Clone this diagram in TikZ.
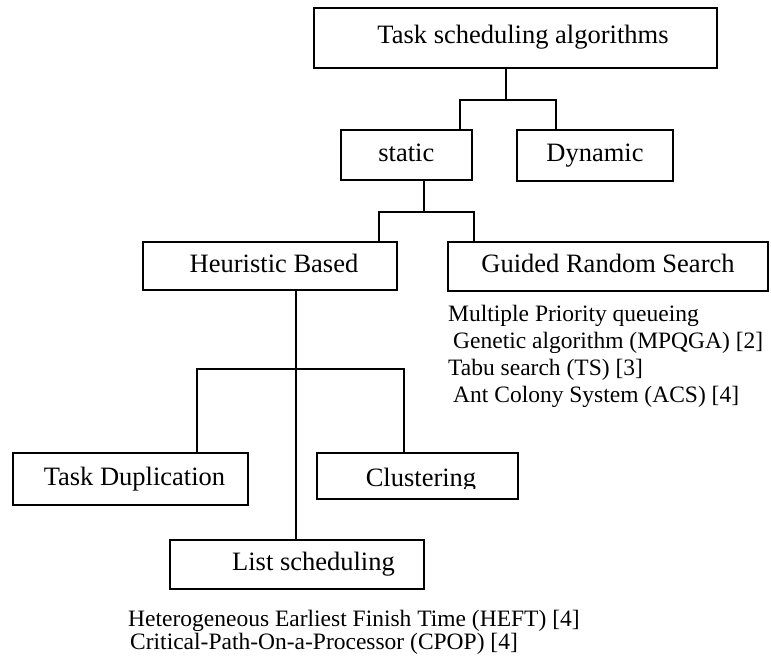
\documentclass[tikz,border=0pt]{standalone}
\usepackage{fontspec}
\setmainfont{Liberation Serif}

\begin{document}
\begin{tikzpicture}[x=1pt,y=-1pt]

      \useasboundingbox (0,0) rectangle (771,658);

      \begin{scope}[every node/.style={draw, line width=2pt, inner sep=0pt,
          text height=18pt, text depth=6pt, font=\fontsize{26.5}{30}\selectfont}]
        \node[minimum width=403, minimum height=60] (top)       at (515.5,38)  {\hspace*{15pt}Task scheduling algorithms};
        \node[minimum width=131, minimum height=50] (static)    at (406.3,155) {static};
        \node[minimum width=156, minimum height=51] (dynamic)   at (595,155.5) {Dynamic};
        \node[minimum width=254, minimum height=48] (heuristic) at (270,266)   {\hspace*{8pt}Heuristic Based};
        \node[minimum width=320, minimum height=49] (guided)    at (608,266.5) {Guided Random Search};
        \node[minimum width=235, minimum height=52] (dup)       at (130.5,479) {\hspace*{8pt}Task Duplication};
        \node[minimum width=201, minimum height=46] (clust)     at (417.5,476) {};
        \node[minimum width=254, minimum height=49] (list)      at (297,564.5) {\hspace*{33pt}List scheduling};
      \end{scope}

      % clustering label is cut at the bottom
      \begin{scope}
        \clip (318,454) rectangle (517,488);
        \node[font=\fontsize{26.5}{30}\selectfont, inner sep=0pt, anchor=base] (clusttext) at (421,486) {Clustering};
      \end{scope}

      \coordinate (j1) at (505.7,100);
      \coordinate (s1) at (460,100);
      \coordinate (d1) at (556,100);
      \coordinate (j2) at (424,212);
      \coordinate (h2) at (379,212);
      \coordinate (g2) at (474,212);
      \coordinate (j3) at (296,369);
      \coordinate (t3) at (197,369);
      \coordinate (c3) at (404,369);

      \begin{scope}[line width=1.8pt]
        \draw (top.south -| j1) -- (j1);
        \draw (static.north -| s1) -- (s1) -- (d1) -- (dynamic.north -| d1);
        \draw (static.south -| j2) -- (j2);
        \draw (heuristic.north -| h2) -- (h2) -- (g2) -- (guided.north -| g2);
        \draw (heuristic.south -| j3) -- (list.north -| j3);
        \draw (dup.north -| t3) -- (t3) -- (c3) -- (clust.north -| c3);
      \end{scope}

      \begin{scope}[every node/.style={anchor=west, inner sep=0pt,
          font=\fontsize{23.5}{27}\selectfont}]
        \node (mpqga1) at (448,316) {Multiple Priority queueing};
        \node (mpqga2) at (453,343) {Genetic algorithm (MPQGA) [2]};
        \node (ts)     at (448,370) {Tabu search (TS) [3]};
        \node (acs)    at (453,397) {Ant Colony System (ACS) [4]};
        \node (heft)   at (128,621) {Heterogeneous Earliest Finish Time (HEFT) [4]};
        \node (cpop)   at (130,644) {Critical-Path-On-a-Processor (CPOP) [4]};
      \end{scope}

    \end{tikzpicture}
\end{document}
